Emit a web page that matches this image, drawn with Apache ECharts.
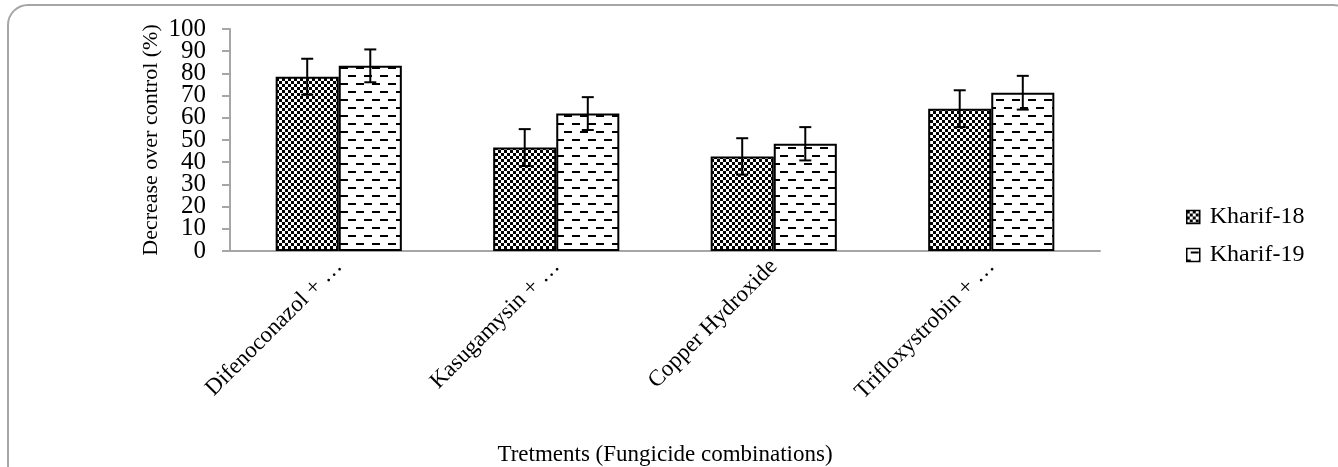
<!DOCTYPE html>
<html>
<head>
<meta charset="utf-8">
<script src="https://cdn.jsdelivr.net/npm/echarts@6/dist/echarts.min.js"></script>
<style>
  html, body { margin: 0; padding: 0; background: #fff; }
  #chart { width: 1338px; height: 467px; }
</style>
</head>
<body>
<div id="chart"></div>
<script>
// data
const categories = ['Difenoconazol + …', 'Kasugamysin + …', 'Copper Hydroxide', 'Trifloxystrobin + …']
const kharif18 = [78.5, 46.6, 42.6, 64.1]
const kharif19 = [83.4, 61.9, 48.3, 71.3]
const err18 = [8.1, 8.3, 8.2, 8.3]
const err19 = [7.4, 7.4, 7.5, 7.6]
const yTicks = { min: 0, max: 100, interval: 10 }

const FONT = 'Liberation Serif'
const gapPct = 42
const GRAY = '#a6a6a6'

// fill patterns
function checkerPattern() {
  const c = document.createElement('canvas')
  c.width = 6
  c.height = 6
  const ctx = c.getContext('2d')
  ctx.fillStyle = '#fff'
  ctx.fillRect(0, 0, 6, 6)
  ctx.fillStyle = '#000'
  ctx.fillRect(0, 0, 3, 3)
  ctx.fillRect(3, 3, 3, 3)
  return c
}
function dashPattern() {
  const c = document.createElement('canvas')
  c.width = 16
  c.height = 16
  const ctx = c.getContext('2d')
  ctx.fillStyle = '#fff'
  ctx.fillRect(0, 0, 16, 16)
  ctx.fillStyle = '#000'
  ctx.fillRect(4, 3, 8, 2)
  ctx.fillRect(12, 11, 8, 2)
  ctx.fillRect(-4, 11, 8, 2)
  return c
}

const chart = echarts.init(document.getElementById('chart'))

function errorSeries(name, values, errs, side) {
  return {
    type: 'custom',
    name: name + ' err',
    z: 5,
    data: values.map((v, i) => [i, v, errs[i]]),
    renderItem(params, api) {
      const i = api.value(0)
      const v = api.value(1)
      const e = api.value(2)
      const cw = api.size([1, 0])[0]
      const bw = cw * (1 - gapPct / 100) / 2
      const hi = api.coord([i, v + e])
      const lo = api.coord([i, v - e])
      const x = hi[0] + side * bw / 2
      const cap = 6
      const style = { stroke: '#000', lineWidth: 2 }
      return {
        type: 'group',
        children: [
          { type: 'line', shape: { x1: x, y1: hi[1], x2: x, y2: lo[1] }, style },
          { type: 'line', shape: { x1: x - cap, y1: hi[1], x2: x + cap, y2: hi[1] }, style },
          { type: 'line', shape: { x1: x - cap, y1: lo[1], x2: x + cap, y2: lo[1] }, style }
        ]
      }
    }
  }
}

const yLabel = { margin: 24, fontFamily: FONT, fontSize: 25, color: '#000' }
const yTick = { show: true, length: 8, lineStyle: { color: GRAY, width: 2 } }

chart.setOption({
  animation: false,
  textStyle: { fontFamily: FONT, color: '#000' },
  graphic: [{
    type: 'rect',
    shape: { x: 8, y: 5, width: 1345, height: 480, r: 20 },
    style: { fill: 'none', stroke: GRAY, lineWidth: 2 },
    silent: true
  }],
  grid: { left: 230, right: 238, top: 29, bottom: 215 },
  legend: {
    orient: 'vertical',
    left: 1181,
    top: 200,
    itemWidth: 13,
    itemHeight: 13,
    itemGap: 14,
    icon: 'rect',
    data: ['Kharif-18', 'Kharif-19'],
    textStyle: { fontFamily: FONT, fontSize: 24, color: '#000', padding: [0, 0, 0, 5] },
    itemStyle: { borderColor: '#000', borderWidth: 1.5 }
  },
  xAxis: {
    type: 'category',
    data: categories,
    name: 'Tretments (Fungicide combinations)',
    nameLocation: 'middle',
    nameGap: 192,
    nameMoveOverlap: false,
    nameTextStyle: { fontFamily: FONT, fontSize: 23, color: '#000' },
    axisLine: { lineStyle: { color: GRAY, width: 2 } },
    axisTick: { length: 9, lineStyle: { color: GRAY, width: 2 } },
    axisLabel: { rotate: 45, margin: 12, fontFamily: FONT, fontSize: 23, color: '#000' }
  },
  yAxis: [{
    type: 'value',
    min: yTicks.min,
    max: yTicks.max,
    interval: yTicks.interval,
    name: 'Decrease over control (%)',
    nameLocation: 'middle',
    nameGap: 68,
    nameMoveOverlap: false,
    nameTextStyle: { fontFamily: FONT, fontSize: 22, color: '#000' },
    axisLine: { show: true, lineStyle: { color: GRAY, width: 2 } },
    axisTick: yTick,
    axisLabel: Object.assign({ showMinLabel: false, showMaxLabel: false }, yLabel),
    splitLine: { show: false }
  }, {
    // second copy of the same scale, only for the 0 and 100 labels
    type: 'value',
    position: 'left',
    min: yTicks.min,
    max: yTicks.max,
    interval: yTicks.interval,
    axisLine: { show: false },
    axisTick: yTick,
    axisLabel: Object.assign({
      showMinLabel: true,
      showMaxLabel: true,
      formatter: v => (v === yTicks.min || v === yTicks.max) ? String(v) : ''
    }, yLabel),
    splitLine: { show: false }
  }],
  series: [{
    name: 'Kharif-18',
    type: 'bar',
    data: kharif18,
    barGap: '0%',
    barCategoryGap: gapPct + '%',
    itemStyle: { color: { image: checkerPattern(), repeat: 'repeat' }, borderColor: '#000', borderWidth: 2 }
  }, {
    name: 'Kharif-19',
    type: 'bar',
    data: kharif19,
    barGap: '0%',
    barCategoryGap: gapPct + '%',
    itemStyle: { color: { image: dashPattern(), repeat: 'repeat' }, borderColor: '#000', borderWidth: 2 }
  },
  errorSeries('Kharif-18', kharif18, err18, -1),
  errorSeries('Kharif-19', kharif19, err19, 1)]
})
</script>
</body>
</html>
